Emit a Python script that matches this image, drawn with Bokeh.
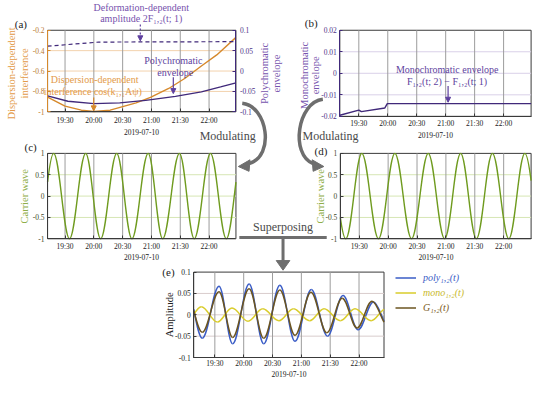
import numpy as np
import pandas as pd
from bokeh.plotting import figure
from bokeh.models import (Range1d, LinearAxis, DatetimeAxis, FixedTicker, DatetimeTickFormatter,
                          CustomJSTickFormatter, Legend, LegendItem, Arrow, NormalHead)
from bokeh.core.properties import value
from bokeh.embed import file_html
from bokeh.resources import INLINE

# ---------------- data ----------------
DATE = "2019-07-10"
tick_times = ["19:30", "20:00", "20:30", "21:00", "21:30", "22:00"]

# (a) dispersion-dependent interference (left axis)
a_interf_time = ["19:11:50", "19:30", "19:47", "20:00", "20:17", "20:44", "20:59",
                 "21:18", "21:35", "21:52", "22:08", "22:28"]
a_interf_val = [-0.855, -0.944, -0.984, -0.997, -0.984, -0.912, -0.859,
                -0.771, -0.671, -0.551, -0.442, -0.27]
# (a) polychromatic envelope (right axis)
a_poly_env_time = ["19:11:50", "19:33", "20:00", "20:27", "20:54", "21:25", "21:52", "22:12", "22:28"]
a_poly_env_val = [-0.061, -0.074, -0.080, -0.078, -0.072, -0.062, -0.051, -0.039, -0.029]
# (a) deformation-dependent amplitude 2F(t;1) (right axis)
a_deform_time = ["19:11:50", "20:05", "22:28"]
a_deform_val = [0.061, 0.071, 0.072]
a_left_ticks = [-1, -0.8, -0.6, -0.4, -0.2]
a_right_ticks = [-0.1, -0.05, 0, 0.05, 0.1]

# (b) monochromatic envelope
b_mono_env_time = ["19:10:20", "19:30", "19:32:40", "19:57", "19:59:30", "22:28:30"]
b_mono_env_val = [-0.0195, -0.0171, -0.0178, -0.0161, -0.0141, -0.0141]
b_ticks = [-0.02, -0.01, 0, 0.01, 0.02]

# (c) carrier wave: extrema (time, value)
c_time = ["19:02:00", "19:18:10", "19:34:40", "19:51:30", "20:07:05", "20:23:50", "20:39:40",
          "20:56:35", "21:11:40", "21:29:10", "21:44:35", "22:01:30", "22:18:00", "22:34:30"]
c_val = [-1, 1, -1, 1, -1, 1, -1, 1, -1, 1, -1, 1, -1, 1]
# (d) carrier wave: extrema
d_time = ["18:59:00", "19:16:00", "19:32:40", "19:50:00", "20:07:00", "20:24:20", "20:41:40",
          "20:58:40", "21:15:20", "21:31:40", "21:48:20", "22:05:20", "22:22:00", "22:39:00"]
d_val = [1, -1, 1, -1, 1, -1, 1, -1, 1, -1, 1, -1, 1, -1]
carrier_ticks = [-1, -0.5, 0, 0.5, 1]

# (e) superposed signals: extrema
e_poly_time = ["19:01:00", "19:16:55", "19:34:20", "19:48:30", "20:05:40", "20:20:50", "20:37:40",
               "20:53:25", "21:10:20", "21:27:10", "21:43:20", "21:59:05", "22:15:00", "22:31:00"]
e_poly_val = [0.060, -0.055, 0.067, -0.068, 0.072, -0.068, 0.069,
              -0.062, 0.059, -0.050, 0.045, -0.035, 0.030, -0.028]
e_mono_time = ["18:59:50", "19:15:55", "19:32:40", "19:47:50", "20:04:35", "20:19:50", "20:36:40",
               "20:51:50", "21:08:35", "21:23:40", "21:40:35", "21:55:50", "22:12:35", "22:28:00"]
e_mono_val = [-0.019, 0.019, -0.017, 0.016, -0.015, 0.014, -0.014,
              0.014, -0.014, 0.014, -0.014, 0.014, -0.014, 0.014]
e_G_time = ["19:01:00", "19:16:55", "19:34:20", "19:48:30", "20:05:40", "20:20:50", "20:37:40",
            "20:53:25", "21:10:00", "21:26:30", "21:42:30", "21:58:00", "22:13:30", "22:30:00"]
e_G_val = [0.045, -0.041, 0.054, -0.053, 0.061, -0.055, 0.058,
           -0.048, 0.053, -0.042, 0.039, -0.031, 0.032, -0.025]
e_ticks = [-0.1, -0.05, 0, 0.05, 0.1]
e_labels = ["poly\u2081,\u2082(t)", "mono\u2081,\u2082(t)", "G\u2081,\u2082(t)"]

# ---------------- styling / geometry ----------------
W, H = 534, 381          # drawn size (fits the window with its 8px margin)
RW, RH = 550.0, 397.0    # reference coordinate system of the canvas
SERIF = "Liberation Serif"
F = value(SERIF)
ORANGE, ORANGE_T = "#d6892c", "#e39a48"
PURPLE, PURPLE_T, PURPLE_A = "#40297a", "#7652ad", "#5e3f9e"
GREEN, GREEN_T = "#6f9b1f", "#8fae4a"
BLUE, YELLOW, BROWN = "#3a5cc6", "#d9cc2b", "#6b5420"
LEG_TEXT = ["#3a5cc6", "#c9b92a", "#7a5a22"]
GRAYARROW = "#6e6e6e"
FRAMEC = "#3a3a3a"


def ms(t):
    return pd.Timestamp(f"{DATE} {t}").value / 1e6


tick_ms = [ms(t) for t in tick_times]

# panel frames on the canvas (left, right, top, bottom), data limits, x-label standoffs
PANELS = {
    "a": dict(box=(48.5, 242.5, 31, 116), x=("19:11:50", "22:28:00"), y=(-1, -0.2), so=(4, 1)),
    "b": dict(box=(349.5, 546.5, 31, 120.7), x=("19:10:20", "22:28:30"), y=(-0.02, 0.02), so=(3, 0)),
    "c": dict(box=(48.5, 242.5, 159.3, 248.3), x=("19:11:50", "22:28:00"), y=(-1, 1), so=(3, 0)),
    "d": dict(box=(350, 546.5, 159.3, 248.3), x=("19:10:20", "22:28:30"), y=(-1, 1), so=(3, 0)),
    "e": dict(box=(199, 395, 283, 372), x=("19:08:00", "22:26:00"), y=(-0.1, 0.1), so=(1, 0)),
}

xr, yr = {}, {}
for k, P in PANELS.items():
    L, R, T, B = P["box"]
    x0, x1 = ms(P["x"][0]), ms(P["x"][1])
    y0, y1 = P["y"]
    sx = (x1 - x0) / (R - L)
    sy = (y1 - y0) / (B - T)
    xr[k] = Range1d(x0 - L * sx, x1 + (RW - R) * sx)
    yr[k] = Range1d(y0 - (RH - B) * sy, y1 + T * sy)
    P["xl"], P["yl"] = (x0, x1), (y0, y1)
# right axis of (a)
La, Ra, Ta, Ba = PANELS["a"]["box"]
sy_env = 0.2 / (Ba - Ta)
yr["env"] = Range1d(-0.1 - (RH - Ba) * sy_env, 0.1 + Ta * sy_env)

p = figure(width=W, height=H, x_range=Range1d(0, RW), y_range=Range1d(RH, 0),
           x_axis_type=None, y_axis_type=None, output_backend="svg", toolbar_location=None,
           title=None, min_border_left=0, min_border_right=0, min_border_top=0,
           min_border_bottom=0)
p.extra_x_ranges = xr
p.extra_y_ranges = yr
p.outline_line_color = None
p.background_fill_color = "white"
p.border_fill_color = "white"

num_fmt = CustomJSTickFormatter(code="return String(tick)")
time_fmt = DatetimeTickFormatter(minutes="%H:%M", hourmin="%H:%M", hours="%H:%M")


def style_axis(ax, color="#1a1a1a", line=FRAMEC):
    ax.major_tick_in = 3
    ax.major_tick_out = 0
    ax.minor_tick_line_color = None
    ax.axis_line_color = line
    ax.major_tick_line_color = line
    ax.major_label_text_font = SERIF
    ax.major_label_text_font_size = "7.5px"
    ax.major_label_text_color = color
    ax.axis_label_text_font = SERIF
    ax.axis_label_text_font_style = "normal"


def setup_panel(k, y_ticks, y_color, grid_color, y_line=FRAMEC):
    P = PANELS[k]
    (x0, x1), (y0, y1) = P["xl"], P["yl"]
    rn = dict(x_range_name=k, y_range_name=k)
    p.quad(left=[x0], right=[x1], bottom=[y0], top=[y1], fill_color="white",
           line_color=FRAMEC, line_width=1, **rn)
    hy = [v for v in y_ticks if y0 < v < y1]
    p.segment(x0=[x0] * len(hy), x1=[x1] * len(hy), y0=hy, y1=hy,
              line_color=grid_color, line_width=1, **rn)
    p.segment(x0=tick_ms, x1=tick_ms, y0=[y0] * len(tick_ms), y1=[y1] * len(tick_ms),
              line_color="#9c9c9c", line_width=1, **rn)
    xa = DatetimeAxis(fixed_location=y0, bounds=(x0, x1), ticker=FixedTicker(ticks=tick_ms),
                      formatter=time_fmt, axis_label=DATE, **rn)
    style_axis(xa)
    xa.major_label_standoff = P["so"][0]
    xa.axis_label_standoff = P["so"][1]
    xa.axis_label_text_font_size = "7.5px"
    xa.axis_label_text_color = "#1a1a1a"
    p.add_layout(xa, "below")
    ya = LinearAxis(fixed_location=x0, bounds=(y0, y1), ticker=FixedTicker(ticks=y_ticks),
                    formatter=num_fmt, **rn)
    style_axis(ya, color=y_color, line=y_line)
    ya.major_label_standoff = 3
    p.add_layout(ya, "left")
    return ya


def half_cos_segments(times, vals, xlim):
    """Half-cosine shaped cubic segments between read extrema, trimmed to the panel."""
    x = np.array([ms(t) for t in times])
    y = np.array(vals, dtype=float)
    k = 1 - 2 / np.pi
    out = {n: [] for n in ["x0", "y0", "cx0", "cy0", "cx1", "cy1", "x1", "y1"]}
    lo, hi = xlim
    for i in range(len(x) - 1):
        dx = x[i + 1] - x[i]
        Pt = np.array([[x[i], y[i]], [x[i] + k * dx, y[i]],
                       [x[i + 1] - k * dx, y[i + 1]], [x[i + 1], y[i + 1]]])
        if Pt[3, 0] <= lo or Pt[0, 0] >= hi:
            continue

        def at(t, Q=Pt):
            return ((1 - t) ** 3) * Q[0] + 3 * ((1 - t) ** 2) * t * Q[1] + \
                3 * (1 - t) * t * t * Q[2] + t ** 3 * Q[3]

        def solve(xt):
            a_, b_ = 0.0, 1.0
            for _ in range(60):
                m = (a_ + b_) / 2
                if at(m)[0] < xt:
                    a_ = m
                else:
                    b_ = m
            return (a_ + b_) / 2

        t0 = solve(lo) if Pt[0, 0] < lo else 0.0
        t1 = solve(hi) if Pt[3, 0] > hi else 1.0

        def split(Q, t):
            a1 = Q[0] + (Q[1] - Q[0]) * t
            b1 = Q[1] + (Q[2] - Q[1]) * t
            c1 = Q[2] + (Q[3] - Q[2]) * t
            a2 = a1 + (b1 - a1) * t
            b2 = b1 + (c1 - b1) * t
            m = a2 + (b2 - a2) * t
            return np.array([Q[0], a1, a2, m]), np.array([m, b2, c1, Q[3]])

        Q = Pt
        if t1 < 1:
            Q = split(Q, t1)[0]
        if t0 > 0:
            Q = split(Q, t0 / t1)[1]
        for j, (nx, ny) in enumerate([("x0", "y0"), ("cx0", "cy0"), ("cx1", "cy1"), ("x1", "y1")]):
            out[nx].append(Q[j][0])
            out[ny].append(Q[j][1])
    return out


# ---------------- (a) ----------------
setup_panel("a", a_left_ticks, "#b8782e", "#f3d2ad", y_line=ORANGE)
ax_r = LinearAxis(x_range_name="a", y_range_name="env", fixed_location=PANELS["a"]["xl"][1],
                  bounds=(-0.1, 0.1), ticker=FixedTicker(ticks=a_right_ticks), formatter=num_fmt)
style_axis(ax_r, color="#4e3388", line=PURPLE)
ax_r.major_label_standoff = 4
p.add_layout(ax_r, "right")
p.line([ms(t) for t in a_interf_time], a_interf_val, line_color=ORANGE, line_width=1.4,
       x_range_name="a", y_range_name="a")
p.line([ms(t) for t in a_poly_env_time], a_poly_env_val, line_color=PURPLE, line_width=1.4,
       x_range_name="a", y_range_name="env")
p.line([ms(t) for t in a_deform_time], a_deform_val, line_color=PURPLE, line_width=1.2,
       line_dash="4 3", x_range_name="a", y_range_name="env")

# ---------------- (b) ----------------
setup_panel("b", b_ticks, "#4e3388", "#d9d0e8", y_line=PURPLE)
p.line([ms(t) for t in b_mono_env_time], b_mono_env_val, line_color=PURPLE, line_width=1.4,
       x_range_name="b", y_range_name="b")

# ---------------- (c) and (d) ----------------
setup_panel("c", carrier_ticks, "#3f4a1f", "#d6e6b4")
p.bezier(**half_cos_segments(c_time, c_val, PANELS["c"]["xl"]), line_color=GREEN, line_width=1.4,
         x_range_name="c", y_range_name="c")
setup_panel("d", carrier_ticks, "#3f4a1f", "#d6e6b4")
p.bezier(**half_cos_segments(d_time, d_val, PANELS["d"]["xl"]), line_color=GREEN, line_width=1.4,
         x_range_name="d", y_range_name="d")

# ---------------- (e) ----------------
setup_panel("e", e_ticks, "#1a1a1a", "#d9cccc")
rn_e = dict(x_range_name="e", y_range_name="e")
xl_e = PANELS["e"]["xl"]
r_poly = p.bezier(**half_cos_segments(e_poly_time, e_poly_val, xl_e), line_color=BLUE,
                  line_width=1.5, **rn_e)
r_mono = p.bezier(**half_cos_segments(e_mono_time, e_mono_val, xl_e), line_color=YELLOW,
                  line_width=1.5, **rn_e)
r_G = p.bezier(**half_cos_segments(e_G_time, e_G_val, xl_e), line_color=BROWN,
               line_width=1.5, **rn_e)
# one legend per entry so each label can take its series colour
for lab, rend, tcol, vy in zip(e_labels, [r_poly, r_mono, r_G], LEG_TEXT, [96, 81, 66]):
    p.add_layout(Legend(items=[LegendItem(label=lab, renderers=[rend])],
                        location=(395, vy), padding=0, margin=0, spacing=0,
                        glyph_width=21, glyph_height=15, label_height=15, label_standoff=7,
                        border_line_alpha=0, background_fill_alpha=0,
                        label_text_font=SERIF, label_text_font_style="italic",
                        label_text_font_size="10px", label_text_color=tcol))

# ---------------- axis titles, arrows and annotations (canvas coordinates) ----------------
ROT = dict(angle=np.pi / 2, text_font=F, text_font_size="10.5px",
           text_align="center", text_baseline="middle")
p.text(x=[11, 25], y=[76, 76], text=["Dispersion-dependent", "interference"],
       text_color=ORANGE_T, **ROT)
p.text(x=[272, 284, 313, 324], y=[76, 76, 78, 78],
       text=["Polychromatic", "envelope", "Monochromatic", "envelope"], text_color=PURPLE_T, **ROT)
p.text(x=[25, 330], y=[204, 204], text=["Carrier wave", "Carrier wave"], text_color=GREEN_T, **ROT)
p.text(x=[174], y=[327.5], text=["Amplitude"], text_color="#222222", **ROT)

p.bezier(x0=[249, 332], y0=[107, 103], x1=[256, 322], y1=[170, 170],
         cx0=[275, 306], cy0=[110, 106], cx1=[283, 298], cy1=[162, 160],
         line_color=GRAYARROW, line_width=3.5)
p.patches(xs=[[245, 257, 256], [333, 321, 322]], ys=[[173, 166, 178], [173, 166, 178]],
          fill_color=GRAYARROW, line_color=GRAYARROW)
p.segment(x0=[246, 291], y0=[247, 247], x1=[336, 291], y1=[247, 272],
          line_color=GRAYARROW, line_width=3)
p.patch(x=[284, 298, 291], y=[271, 271, 281], fill_color=GRAYARROW, line_color=GRAYARROW)
p.text(x=[234, 340, 291], y=[141, 141, 236], text=["Modulating", "Modulating", "Superposing"],
       text_font=F, text_font_size="12px", text_color="#4a4a4a",
       text_align="center", text_baseline="middle")
p.text(x=[21, 320, 31, 330, 173], y=[25, 23, 153, 157, 283],
       text=["(a)", "(b)", "(c)", "(d)", "(e)"], text_font=F, text_font_size="11px",
       text_color="#222222", text_align="center", text_baseline="middle")
p.text(x=[145, 145], y=[7.5, 19], text=["Deformation-dependent", "amplitude 2F\u2081,\u2082(t; 1)"],
       text_font=F, text_font_size="10px", text_color=PURPLE_T,
       text_align="center", text_baseline="middle")
p.text(x=[178, 180, 460, 460], y=[63, 75, 71.5, 84],
       text=["Polychromatic", "envelope", "Monochromatic envelope",
             "F\u2081,\u2082(t; 2) \u2212 F\u2081,\u2082(t; 1)"],
       text_font=F, text_font_size="10px", text_color=PURPLE_A,
       text_align="center", text_baseline="middle")
p.text(x=[97, 95], y=[82, 95], text=["Dispersion-dependent", "interference cos(k\u2081,\u2081A\u03c8)"],
       text_font=F, text_font_size="10px", text_color=ORANGE_T,
       text_align="center", text_baseline="middle")
for (xs, ys, xe, ye_, col, dash) in [(144, 25, 144, 42, PURPLE_A, "2 2"),
                                     (178, 80, 178, 97, PURPLE_A, "solid"),
                                     (96, 101, 96, 115, ORANGE, "solid"),
                                     (461, 89, 461, 106, PURPLE_A, "solid")]:
    p.add_layout(Arrow(end=NormalHead(size=5, fill_color=col, line_color=col),
                       x_start=xs, y_start=ys, x_end=xe, y_end=ye_,
                       line_color=col, line_width=1.2, line_dash=dash))

open("out.html", "w").write(file_html(p, INLINE))
